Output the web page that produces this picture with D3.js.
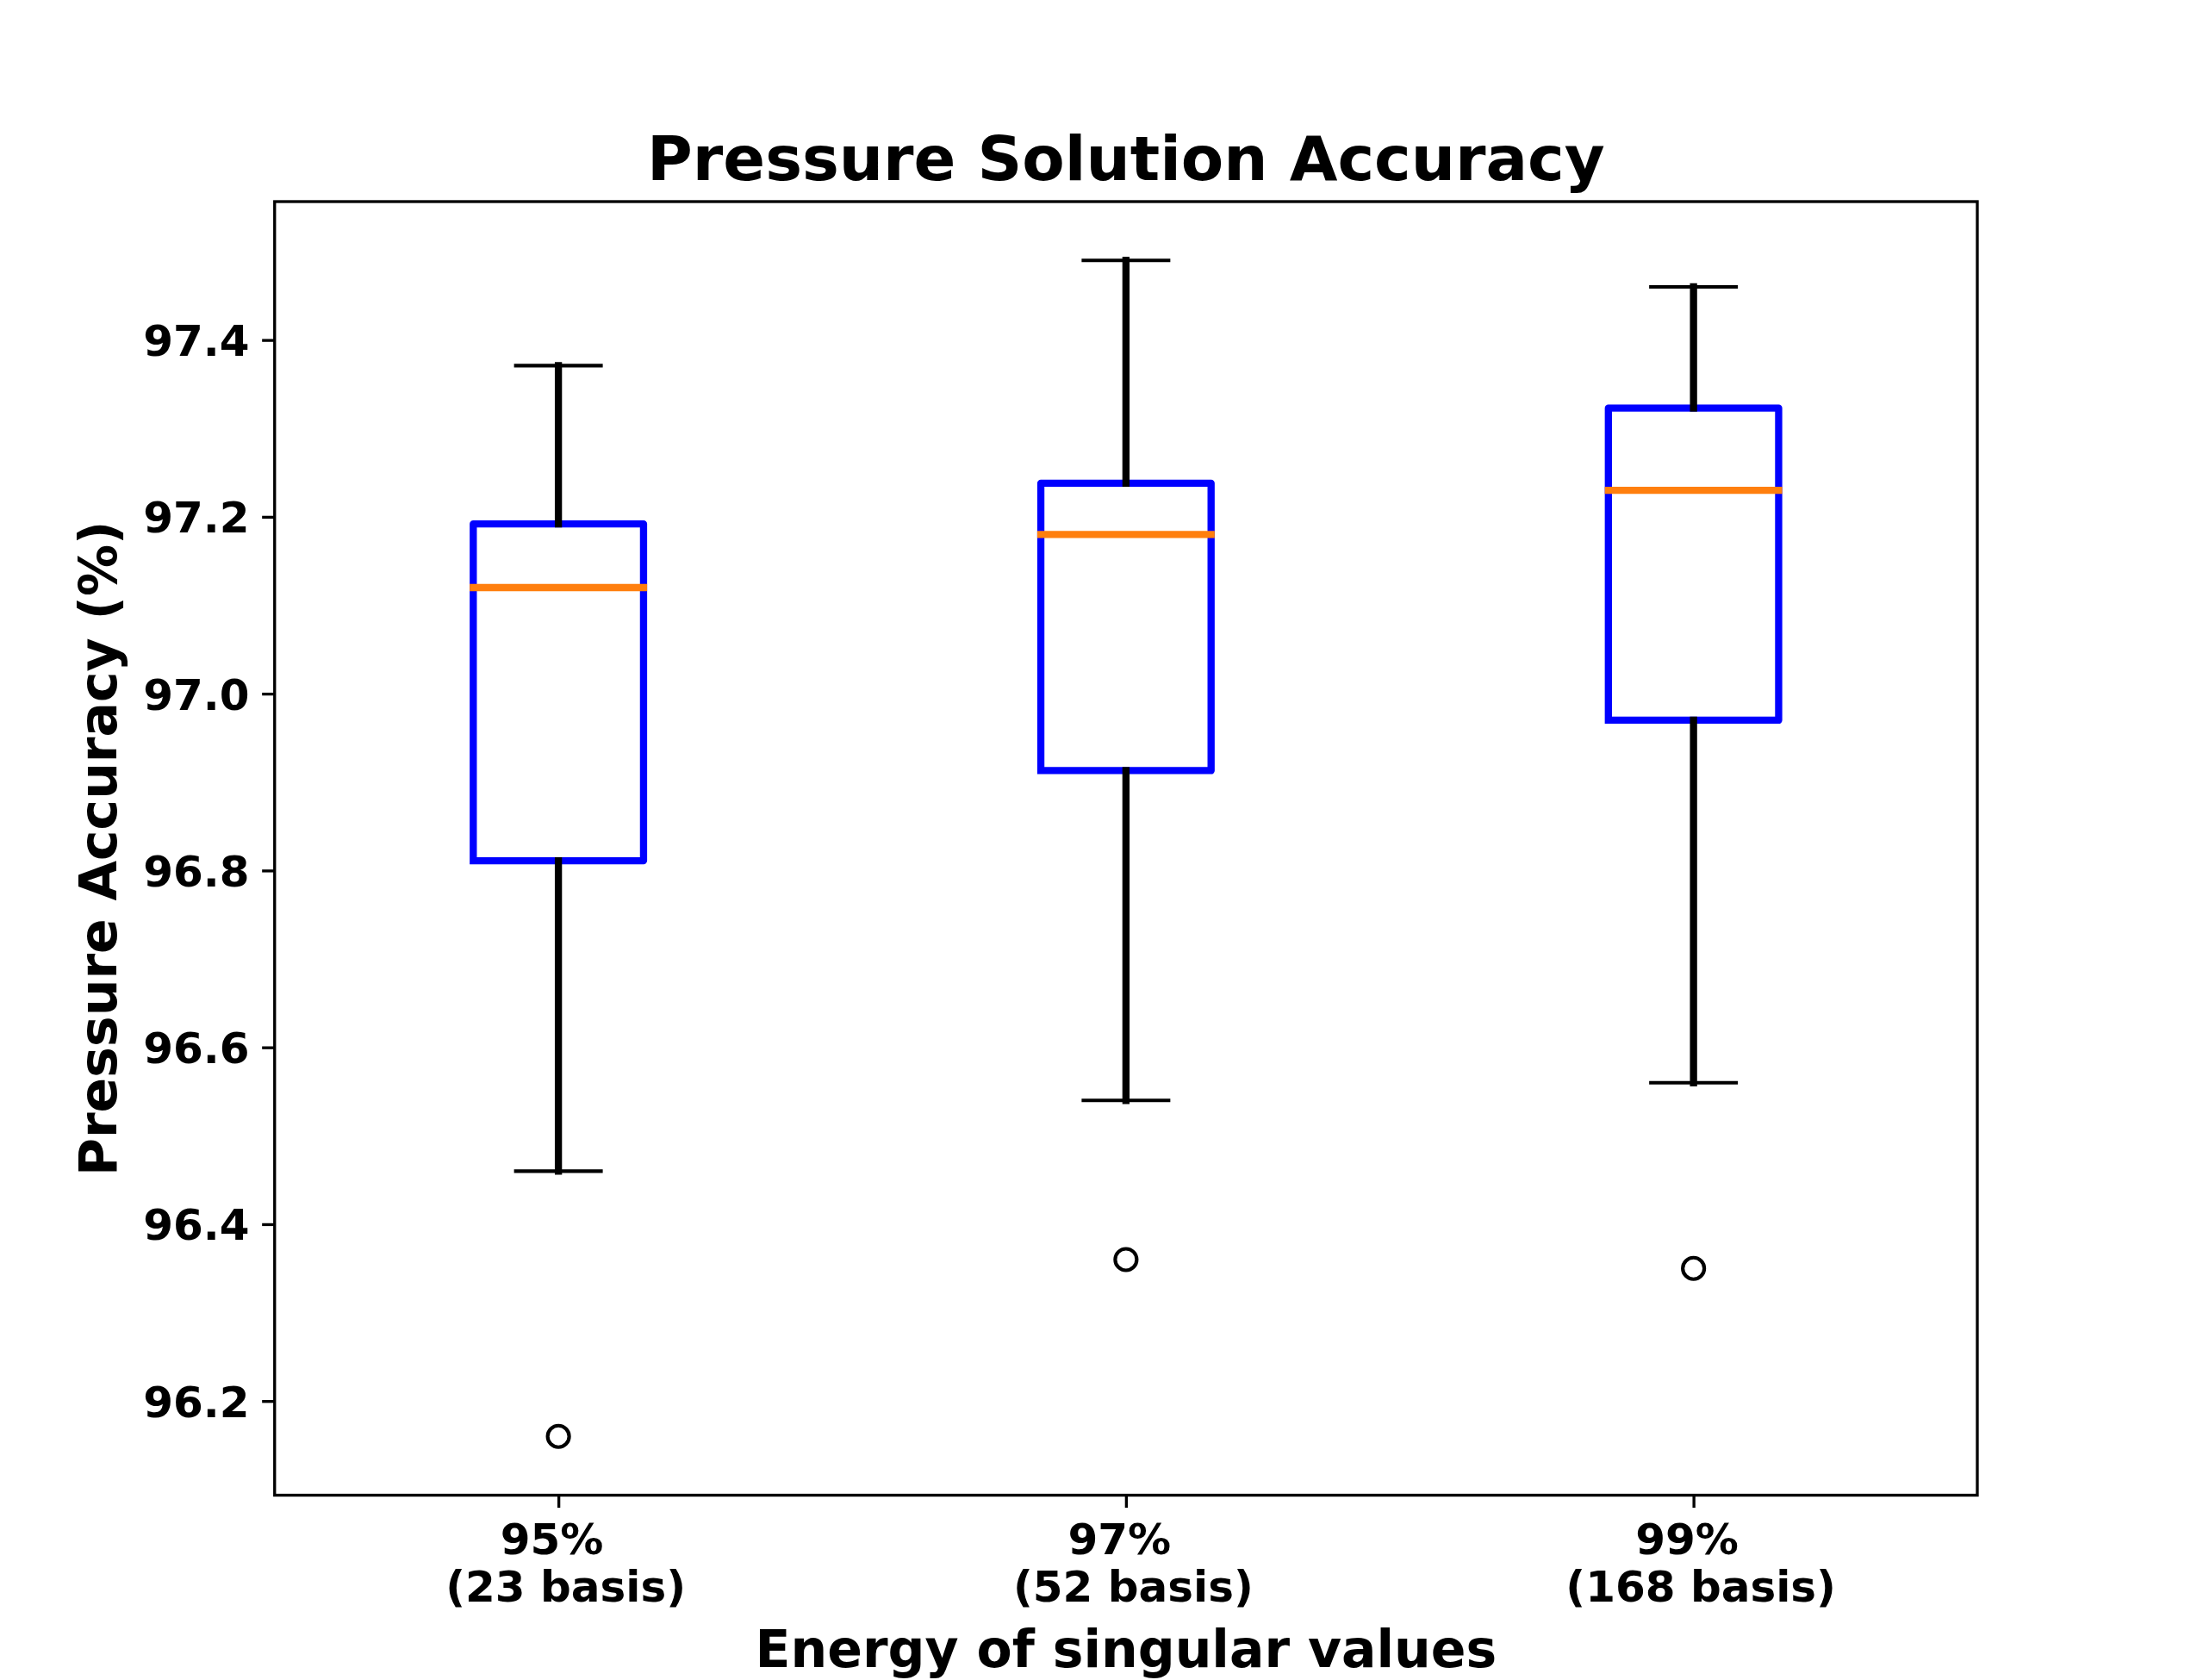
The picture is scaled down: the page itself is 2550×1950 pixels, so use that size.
<!DOCTYPE html>
<html><head><meta charset="utf-8">
<script src="https://cdn.jsdelivr.net/npm/d3@7"></script>
<style>
html,body{margin:0;padding:0;background:#fff;}
svg{display:block;}
text{font-family:"DejaVu Sans";font-weight:bold;fill:#000;}
</style>
</head><body><svg id="c" width="2550" height="1950"></svg>
<script>
// ---- data ----
const categories = ["95%", "97%", "99%"];
const basisLabels = ["(23 basis)", "(52 basis)", "(168 basis)"];
const whiskerLow  = [96.46, 96.54, 96.56];
const q1          = [96.811, 96.913, 96.97];
const median      = [97.12, 97.18, 97.23];
const q3          = [97.192, 97.238, 97.323];
const whiskerHigh = [97.371, 97.49, 97.46];
const outliers    = [[96.16], [96.36], [96.35]];
const yTicks      = [96.2, 96.4, 96.6, 96.8, 97.0, 97.2, 97.4];
const titleText = "Pressure Solution Accuracy";
const xLabelText = "Energy of singular values";
const yLabelText = "Pressure Accuracy (%)";

// ---- layout ----
const W = 2550, H = 1950;
const pt = 300 / 72;
const L = 0.125 * W, R = 0.9 * W, T = 0.12 * H, B = 0.89 * H;
const svg = d3.select("#c");

const allVals = [].concat(whiskerLow, whiskerHigh, q1, q3, median, ...outliers);
const lo = d3.min(allVals), hi = d3.max(allVals);
const pad = (hi - lo) * 0.05;

const x = d3.scaleLinear().domain([0.5, categories.length + 0.5]).range([L, R]);
const y = d3.scaleLinear().domain([lo - pad, hi + pad]).range([B, T]);

const boxW = 0.3, capW = 0.15;
const stats = categories.map((c, i) => ({
  pos: i + 1, lo: whiskerLow[i], q1: q1[i], med: median[i], q3: q3[i], hi: whiskerHigh[i], fl: outliers[i]
}));

// y axis
const yAxis = d3.axisLeft(y).tickValues(yTicks).tickFormat(d3.format(".1f"))
  .tickSize(3.5 * pt).tickPadding(3.5 * pt);
const gy = svg.append("g").attr("transform", `translate(${L},0)`).call(yAxis);
gy.select(".domain").remove();
gy.selectAll(".tick line").attr("stroke", "#000").attr("stroke-width", 0.8 * pt);
gy.selectAll(".tick text").attr("font-size", 12 * pt).attr("font-family", "DejaVu Sans")
  .attr("font-weight", "bold").attr("fill", "#000").attr("dy", "0.36em");

// x axis
const xAxis = d3.axisBottom(x).tickValues(stats.map(s => s.pos)).tickFormat(() => "")
  .tickSize(3.5 * pt).tickPadding(3.5 * pt);
const gx = svg.append("g").attr("transform", `translate(0,${B})`).call(xAxis);
gx.select(".domain").remove();
gx.selectAll(".tick line").attr("stroke", "#000").attr("stroke-width", 0.8 * pt);
gx.selectAll(".tick text").each(function(d, i) {
  const t = d3.select(this).attr("y", null).attr("dy", null)
    .attr("font-size", 12 * pt).attr("font-family", "DejaVu Sans").attr("font-weight", "bold")
    .attr("fill", "#000").attr("text-anchor", "middle");
  t.text(null);
  t.append("tspan").attr("x", -8).attr("y", 68).text(categories[i]);
  t.append("tspan").attr("x", 8).attr("y", 123).text(basisLabels[i]);
});

// boxes
const g = svg.append("g");
stats.forEach(s => {
  const xl = x(s.pos - boxW / 2), xr = x(s.pos + boxW / 2), xc = x(s.pos);
  const path = d3.path();
  path.moveTo(xl, y(s.q1)); path.lineTo(xr, y(s.q1)); path.lineTo(xr, y(s.q3));
  path.lineTo(xl, y(s.q3)); path.lineTo(xl, y(s.q1));
  g.append("path").attr("d", path.toString()).attr("fill", "none").attr("stroke", "#0000ff")
    .attr("stroke-width", 2 * pt).attr("stroke-linejoin", "round").attr("stroke-linecap", "square");
  // whiskers
  [[s.q1, s.lo], [s.q3, s.hi]].forEach(([a, b]) => {
    g.append("line").attr("x1", xc).attr("x2", xc).attr("y1", y(a)).attr("y2", y(b))
      .attr("stroke", "#000").attr("stroke-width", 2 * pt).attr("stroke-linecap", "square");
  });
  // caps
  [s.lo, s.hi].forEach(v => {
    g.append("line").attr("x1", x(s.pos - capW / 2)).attr("x2", x(s.pos + capW / 2))
      .attr("y1", y(v)).attr("y2", y(v))
      .attr("stroke", "#000").attr("stroke-width", 1 * pt).attr("stroke-linecap", "square");
  });
  // median
  g.append("line").attr("x1", xl).attr("x2", xr).attr("y1", y(s.med)).attr("y2", y(s.med))
    .attr("stroke", "#ff7f0e").attr("stroke-width", 2 * pt).attr("stroke-linecap", "square");
  // fliers
  s.fl.forEach(v => {
    g.append("circle").attr("cx", xc).attr("cy", y(v)).attr("r", 3 * pt)
      .attr("fill", "none").attr("stroke", "#000").attr("stroke-width", 1 * pt);
  });
});

// spines
svg.append("rect").attr("x", L).attr("y", T).attr("width", R - L).attr("height", B - T)
  .attr("fill", "none").attr("stroke", "#000").attr("stroke-width", 0.8 * pt);

// title & labels
svg.append("text").attr("x", (L + R) / 2).attr("y", T - 6 * pt).attr("text-anchor", "middle")
  .attr("font-size", 17.28 * pt).text(titleText);
svg.append("text").attr("x", (L + R) / 2).attr("y", 1935).attr("text-anchor", "middle")
  .attr("font-size", 14.4 * pt).text(xLabelText);
svg.append("text").attr("transform", `translate(135,${(T + B) / 2}) rotate(-90)`)
  .attr("text-anchor", "middle").attr("font-size", 14.4 * pt).text(yLabelText);
</script>
</body></html>
